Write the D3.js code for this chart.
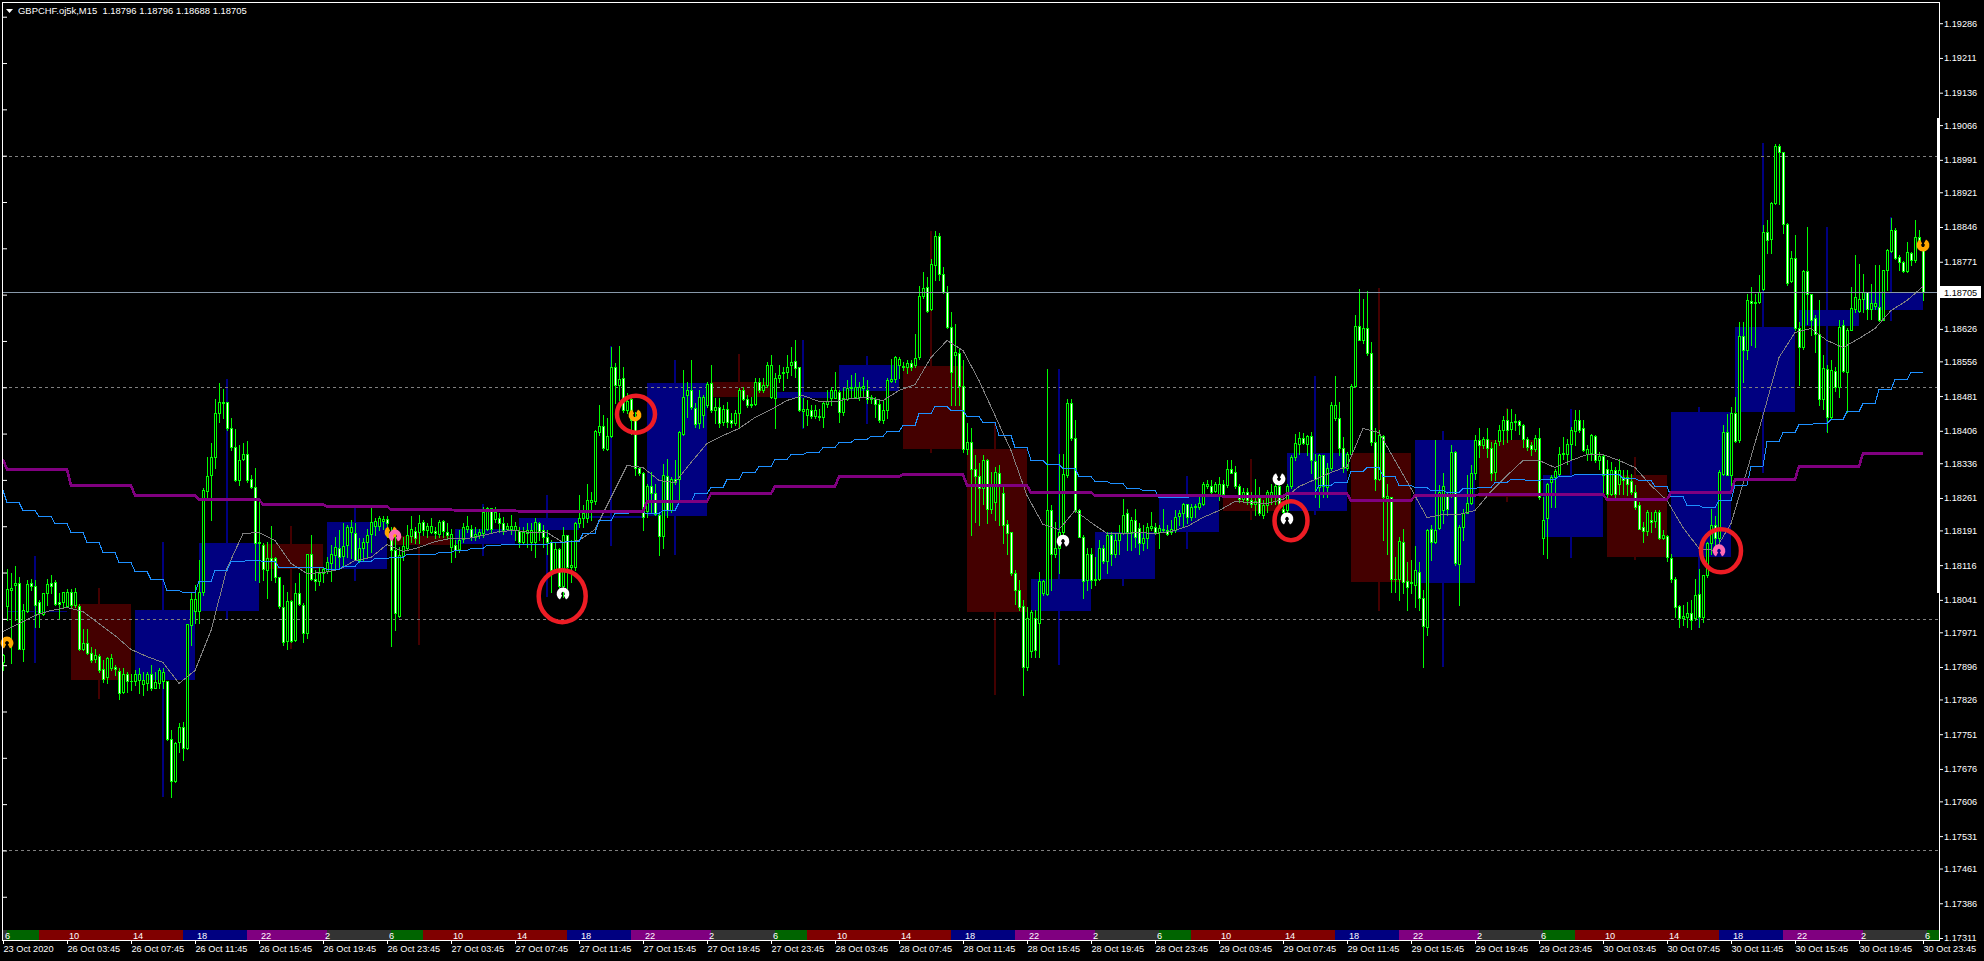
<!DOCTYPE html>
<html>
<head>
<meta charset="utf-8">
<title>GBPCHF M15</title>
<script src="https://cdnjs.cloudflare.com/ajax/libs/d3/7.8.5/d3.min.js"></script>
<style>
html, body { margin: 0; background: #000; overflow: hidden; }
svg { display: block; }
text { font-family: "Liberation Sans", sans-serif; font-size: 9.2px; fill: #fff; }
</style>
</head>
<body>
<svg></svg>
<script>
var width = 1984
var height = 961

var headerText = "GBPCHF.oj5k,M15  1.18796 1.18796 1.18688 1.18705"
var lastPrice = 1.18705

var priceLabels = ["1.19286","1.19211","1.19136","1.19066","1.18991","1.18921","1.18846","1.18771","1.18626","1.18556","1.18481","1.18406","1.18336","1.18261","1.18191","1.18116","1.18041","1.17971","1.17896","1.17826","1.17751","1.17676","1.17606","1.17531","1.17461","1.17386","1.17311"]
var dashedLevels = [1.19, 1.185, 1.18, 1.175]
var leftTicks = [1.193,1.192,1.191,1.19,1.189,1.188,1.187,1.186,1.185,1.184,1.183,1.182,1.181,1.18,1.179,1.178,1.177,1.176,1.175,1.174]

var timeLabels = ["23 Oct 2020",
  "26 Oct 03:45","26 Oct 07:45","26 Oct 11:45","26 Oct 15:45","26 Oct 19:45","26 Oct 23:45",
  "27 Oct 03:45","27 Oct 07:45","27 Oct 11:45","27 Oct 15:45","27 Oct 19:45","27 Oct 23:45",
  "28 Oct 03:45","28 Oct 07:45","28 Oct 11:45","28 Oct 15:45","28 Oct 19:45","28 Oct 23:45",
  "29 Oct 03:45","29 Oct 07:45","29 Oct 11:45","29 Oct 15:45","29 Oct 19:45","29 Oct 23:45",
  "30 Oct 03:45","30 Oct 07:45","30 Oct 11:45","30 Oct 15:45","30 Oct 19:45","30 Oct 23:45"]
var hourLabels = ["6","10","14","18","22","2"]

// hour at which each session colour starts, 2 = still in the grey part of the night
var sessionHours = [2, 6, 8, 17, 21]
var sessionEnds = [6, 8, 17, 21, 26]
var sessionColors = ["#333333", "#006400", "#800000", "#000080", "#800080"]

// all M15 prices in points, 18705 = 1.18705
var opens = [
17907,18028,18062,18073,18077,17936,18018,18077,18072,18036,18010,18055,18077,18080,18036,18037,
18028,18057,18030,18028,17936,17948,17927,17914,17920,17892,17875,17893,17897,17888,17843,17881,
17865,17866,17868,17859,17861,17882,17850,17862,17866,17866,17740,17650,17735,17767,17722,17987,
18018,18018,18059,18275,18311,18350,18444,18465,18468,18413,18372,18300,18345,18357,18301,18285,
18163,18159,18105,18131,18131,18091,18025,17953,18039,17954,18055,18031,17970,18139,18085,18082,
18098,18104,18121,18138,18154,18136,18159,18187,18185,18128,18154,18167,18183,18201,18200,18212,
18215,18170,18149,18007,18136,18152,18179,18190,18188,18209,18192,18188,18190,18183,18211,18188,
18156,18159,18150,18172,18195,18194,18177,18181,18185,18194,18239,18216,18217,18206,18194,18195,
18192,18190,18166,18186,18166,18166,18206,18192,18176,18166,18105,18150,18071,18181,18112,18112,
18206,18217,18218,18253,18255,18404,18416,18366,18395,18543,18505,18519,18451,18474,18429,18325,
18314,18233,18287,18271,18224,18179,18308,18235,18303,18301,18400,18483,18495,18456,18422,18440,
18462,18510,18451,18458,18426,18454,18429,18423,18444,18495,18474,18463,18464,18512,18494,18505,
18478,18476,18521,18530,18534,18548,18557,18543,18449,18440,18452,18438,18438,18435,18464,18476,
18476,18490,18447,18474,18498,18478,18478,18498,18495,18474,18474,18463,18429,18452,18514,18517,
18548,18546,18544,18553,18548,18565,18697,18716,18668,18764,18827,18744,18706,18631,18570,18573,
18503,18366,18382,18323,18308,18282,18343,18238,18253,18314,18271,18205,18187,18098,18062,18027,
17896,17931,18001,17991,18055,18053,18235,18140,18152,18188,18310,18467,18390,18235,18177,18084,
18141,18087,18087,18152,18125,18181,18141,18170,18186,18229,18186,18213,18197,18163,18174,18197,
18199,18187,18192,18192,18187,18192,18222,18228,18248,18220,18241,18242,18249,18287,18287,18277,
18267,18291,18289,18323,18318,18287,18258,18273,18256,18248,18260,18224,18246,18267,18267,18287,
18238,18235,18287,18350,18377,18390,18377,18395,18341,18285,18354,18285,18325,18433,18433,18368,
18325,18357,18503,18632,18603,18629,18573,18382,18303,18395,18261,18264,18085,18085,18165,18082,
18078,18074,18102,18044,17983,18193,18166,18197,18236,18267,18269,18361,18118,18199,18229,18251,
18314,18386,18375,18388,18368,18318,18384,18407,18429,18409,18425,18427,18419,18389,18375,18366,
18391,18175,18218,18295,18306,18313,18355,18357,18377,18406,18429,18411,18357,18358,18395,18342,
18351,18324,18270,18321,18292,18306,18306,18297,18274,18245,18198,18190,18213,18211,18231,18175,
18179,18132,18087,18027,18002,18005,18012,18002,18053,18005,18094,18164,18203,18175,18313,18403,
18311,18445,18387,18611,18580,18686,18684,18684,18713,18835,18821,18897,19020,19007,18853,18730,
18780,18629,18586,18751,18702,18650,18614,18475,18540,18436,18535,18501,18634,18533,18624,18670,
18665,18691,18706,18670,18675,18673,18646,18753,18794,18840,18781,18771,18751,18790,18774,18825,18796]
var closes = [
17922,18064,18067,18077,17936,18019,18075,18072,18031,18013,18055,18075,18072,18033,18032,18057,
18057,18030,18057,17936,17948,17927,17911,17921,17889,17871,17915,17916,17891,17840,17882,17866,
17866,17880,17882,17868,17880,17850,17864,17889,17886,17740,17650,17733,17767,17722,17988,18042,
18042,18059,18278,18309,18350,18444,18469,18469,18413,18370,18300,18344,18355,18300,18284,18163,
18167,18107,18131,18126,18091,18028,17951,18039,17953,18055,18033,17970,18139,18085,18082,18098,
18107,18123,18139,18156,18134,18157,18198,18199,18128,18152,18167,18182,18210,18212,18217,18216,
18208,18149,18012,18138,18158,18182,18193,18174,18208,18192,18200,18200,18185,18209,18190,18181,
18183,18149,18170,18199,18201,18176,18183,18188,18231,18239,18195,18231,18206,18192,18200,18200,
18201,18166,18188,18192,18192,18210,18190,18176,18167,18105,18150,18071,18181,18112,18116,18206,
18217,18228,18256,18256,18405,18416,18368,18395,18543,18505,18517,18451,18471,18429,18325,18314,
18220,18287,18271,18226,18179,18310,18235,18301,18296,18404,18480,18495,18457,18421,18480,18478,
18508,18451,18458,18422,18454,18426,18422,18445,18494,18474,18462,18462,18512,18494,18505,18548,
18548,18521,18526,18534,18544,18555,18541,18452,18454,18454,18438,18452,18435,18465,18470,18495,
18494,18447,18476,18498,18501,18501,18501,18503,18474,18478,18463,18429,18452,18516,18517,18565,
18562,18544,18553,18543,18564,18697,18715,18665,18767,18827,18744,18706,18631,18534,18577,18503,
18366,18382,18323,18308,18282,18343,18238,18292,18318,18289,18202,18186,18098,18063,18026,17896,
18001,18015,17932,18082,18082,18235,18140,18152,18188,18312,18467,18390,18235,18177,18082,18141,
18084,18084,18152,18125,18181,18141,18170,18186,18225,18188,18213,18177,18163,18174,18199,18200,
18188,18197,18195,18184,18193,18220,18228,18248,18219,18242,18243,18251,18292,18292,18274,18291,
18292,18269,18323,18315,18287,18258,18273,18256,18248,18255,18228,18246,18274,18274,18287,18242,
18231,18287,18349,18379,18390,18379,18395,18343,18303,18354,18287,18325,18462,18462,18368,18325,
18357,18503,18632,18603,18627,18575,18382,18303,18398,18264,18265,18085,18087,18168,18080,18069,
18080,18105,18044,17984,18192,18166,18192,18274,18287,18238,18361,18120,18199,18229,18251,18314,
18386,18375,18388,18368,18314,18380,18407,18429,18407,18425,18427,18418,18389,18372,18366,18391,
18263,18214,18292,18306,18319,18357,18359,18378,18407,18429,18407,18364,18367,18396,18342,18351,
18310,18270,18321,18270,18321,18300,18292,18274,18241,18195,18189,18231,18209,18231,18175,18180,
18133,18087,18025,18002,18007,18012,17998,18052,18005,18094,18164,18203,18175,18316,18403,18311,
18445,18385,18611,18580,18689,18682,18681,18706,18835,18819,18897,19020,19008,18853,18725,18780,
18629,18586,18750,18702,18645,18616,18475,18542,18436,18537,18501,18630,18535,18624,18672,18694,
18691,18706,18670,18683,18683,18646,18753,18796,18839,18780,18771,18751,18792,18774,18825,18810,18705]
var highs = [
17925,18107,18098,18114,18091,18033,18084,18087,18084,18041,18055,18087,18095,18084,18055,18059,
18064,18064,18066,18033,17979,17979,17940,17936,17925,17911,17918,17925,17900,17893,17893,17886,
17882,17889,17893,17886,17886,17900,17886,17893,17893,17866,17760,17735,17776,17778,17988,18055,
18073,18127,18282,18350,18379,18474,18510,18496,18469,18433,18409,18375,18380,18383,18311,18325,
18253,18163,18167,18200,18134,18091,18073,18059,18041,18077,18098,18035,18139,18181,18105,18113,
18113,18134,18159,18177,18192,18206,18203,18213,18206,18174,18174,18195,18239,18217,18221,18221,
18221,18199,18185,18156,18177,18203,18222,18199,18224,18213,18206,18217,18199,18213,18213,18206,
18195,18170,18192,18206,18221,18203,18199,18195,18242,18242,18239,18242,18228,18220,18207,18224,
18210,18199,18199,18206,18206,18217,18210,18202,18192,18170,18166,18152,18199,18181,18170,18210,
18267,18246,18292,18274,18408,18462,18440,18433,18588,18552,18589,18544,18487,18480,18447,18328,
18318,18292,18318,18292,18231,18334,18346,18307,18343,18406,18537,18512,18559,18465,18494,18483,
18512,18548,18476,18476,18462,18469,18444,18451,18498,18501,18483,18480,18519,18519,18519,18555,
18570,18530,18548,18544,18570,18588,18602,18544,18476,18472,18462,18462,18454,18469,18494,18501,
18534,18494,18498,18516,18526,18530,18512,18523,18516,18483,18480,18472,18472,18519,18562,18567,
18566,18555,18559,18559,18615,18718,18748,18737,18778,18837,18834,18760,18719,18663,18636,18584,
18559,18422,18411,18354,18336,18354,18346,18318,18328,18332,18292,18213,18188,18105,18084,18040,
18026,18019,18019,18102,18084,18539,18246,18210,18357,18357,18474,18474,18429,18238,18181,18152,
18152,18134,18170,18159,18188,18188,18184,18202,18258,18238,18220,18238,18206,18202,18206,18231,
18206,18202,18238,18202,18213,18235,18235,18251,18249,18249,18249,18264,18296,18300,18300,18296,
18307,18300,18343,18344,18330,18292,18282,18282,18274,18303,18285,18256,18278,18292,18296,18296,
18249,18292,18354,18400,18404,18402,18397,18404,18357,18357,18354,18336,18469,18524,18469,18393,
18361,18508,18656,18713,18690,18708,18598,18411,18408,18397,18292,18264,18134,18177,18193,18123,
18127,18157,18123,18062,18195,18202,18386,18289,18314,18271,18375,18362,18202,18238,18310,18332,
18397,18411,18393,18411,18382,18386,18418,18439,18454,18454,18443,18430,18421,18393,18382,18396,
18413,18263,18293,18310,18324,18371,18393,18389,18414,18450,18450,18429,18375,18400,18396,18360,
18353,18342,18339,18328,18346,18321,18321,18313,18288,18252,18209,18234,18231,18234,18234,18191,
18180,18141,18090,18029,18029,18036,18040,18087,18108,18094,18166,18238,18223,18321,18418,18443,
18457,18479,18641,18641,18702,18717,18702,18742,18851,18861,18900,19025,19026,19008,18855,18794,
18828,18641,18754,18846,18702,18655,18688,18569,18547,18558,18544,18645,18645,18627,18717,18785,
18767,18745,18706,18724,18763,18763,18753,18799,18866,18843,18785,18772,18814,18792,18861,18839,18796]
var lows = [
17889,17997,17904,17997,17936,17910,18015,18062,17983,17983,18008,18030,18055,18030,18001,18026,
18025,18025,18025,17933,17933,17924,17907,17907,17886,17864,17861,17889,17879,17828,17839,17843,
17846,17857,17839,17835,17846,17846,17850,17850,17850,17738,17616,17648,17713,17695,17720,17943,
17991,17991,18051,18264,18213,18325,18426,18433,18408,18365,18298,18289,18343,18296,18282,18084,
18080,18084,18044,18084,18080,18023,17943,17936,17951,17953,18030,17951,17958,18084,18062,18073,
18080,18098,18082,18105,18113,18113,18134,18131,18127,18123,18127,18134,18145,18181,18192,18195,
18177,17941,17976,18005,18127,18149,18167,18163,18163,18181,18177,18185,18174,18177,18177,18174,
18122,18134,18145,18167,18188,18170,18170,18174,18177,18192,18188,18210,18188,18184,18192,18184,
18170,18156,18163,18156,18148,18134,18170,18156,18141,18058,18105,18055,18048,18066,18080,18105,
18199,18199,18210,18213,18249,18397,18364,18364,18393,18465,18472,18447,18444,18400,18310,18310,
18192,18220,18228,18224,18138,18152,18220,18231,18292,18256,18397,18436,18454,18415,18411,18415,
18458,18447,18422,18415,18418,18415,18415,18418,18411,18472,18458,18458,18462,18490,18490,18501,
18476,18411,18512,18494,18519,18526,18523,18449,18415,18418,18433,18433,18429,18415,18458,18462,
18483,18426,18440,18472,18476,18476,18472,18480,18465,18465,18436,18426,18422,18433,18512,18512,
18519,18537,18530,18537,18544,18560,18692,18663,18667,18731,18731,18704,18627,18462,18462,18462,
18361,18357,18181,18210,18202,18249,18206,18228,18213,18202,18163,18141,18094,18033,18019,17835,
17889,17918,17918,17918,18051,18051,18062,18134,18098,18184,18307,18386,18231,18176,18044,18062,
18066,18073,18084,18120,18098,18116,18134,18141,18184,18148,18148,18156,18141,18148,18152,18192,
18184,18152,18188,18181,18184,18188,18202,18199,18206,18213,18220,18238,18246,18282,18271,18274,
18256,18267,18285,18314,18282,18253,18253,18249,18242,18224,18224,18217,18231,18249,18249,18242,
18228,18231,18282,18343,18357,18377,18354,18314,18264,18242,18264,18264,18321,18429,18354,18318,
18321,18354,18500,18602,18595,18570,18375,18278,18300,18171,18141,18058,18058,18040,18055,18019,
18055,18026,18019,17896,17965,18127,18163,18195,18206,18224,18264,18116,18030,18170,18228,18249,
18303,18350,18368,18350,18300,18300,18375,18378,18382,18389,18407,18400,18371,18364,18353,18362,
18259,18139,18131,18241,18241,18310,18346,18335,18346,18375,18403,18362,18342,18342,18339,18324,
18267,18263,18267,18256,18270,18270,18267,18270,18238,18195,18166,18180,18187,18198,18173,18173,
18126,18079,18004,17982,17986,17982,17979,17997,17982,17993,18090,18141,18148,18159,18310,18310,
18274,18382,18382,18511,18562,18591,18587,18681,18709,18789,18789,18895,18895,18832,18720,18727,
18623,18504,18583,18637,18612,18576,18461,18454,18403,18432,18493,18479,18533,18447,18623,18663,
18663,18663,18648,18648,18670,18643,18645,18709,18792,18778,18753,18749,18749,18763,18771,18807,18688]

// H4 candles drawn behind the M15 ones
var h4Opens = [18015,18032,17868,18017,18162,18108,18179,18162,18192,18218,18222,18511,18477,18492,18546,18367,18017,18086,18188,18265,18233,18358,18077,18386,18177,18311,18134,18447,18632,18667]
var h4Closes = [18018,17868,18019,18164,18108,18209,18159,18194,18218,18222,18509,18479,18490,18548,18367,18015,18086,18188,18265,18233,18358,18080,18386,18263,18311,18134,18447,18630,18667,18706]
var h4Highs = [18136,18067,18166,18518,18200,18239,18192,18248,18267,18589,18559,18572,18602,18567,18837,18423,18539,18190,18308,18345,18524,18714,18406,18455,18453,18349,18457,19027,18846,18868]
var h4Lows = [17905,17827,17615,18000,17935,18082,17944,18136,18047,18157,18138,18412,18410,18421,18358,17836,17900,18071,18151,18213,18224,18017,17896,18252,18131,18127,17980,18315,18403,18643]

// slow MA, one value per H4 bar, first value is the tail of the bar before the chart
var purpleMa = [18345,18324,18290,18268,18259,18248,18244,18237,18235,18233,18233,18254,18272,18287,18308,18313,18290,18274,18267,18267,18265,18272,18257,18267,18270,18270,18259,18274,18303,18330,18359]

// H1 MA, one value per hour, same thing for the first value
var blueMa = [18278,18252,18234,18221,18206,18187,18165,18144,18122,18103,18085,18062,18057,18081,18105,18124,18128,18124,18111,18112,18113,18108,18115,18124,18131,18134,18139,18141,18144,18148,18154,18159,
18161,18161,18161,18166,18168,18185,18213,18228,18231,18228,18234,18252,18272,18285,18301,18316,18329,18346,18355,18361,18370,18381,18388,18394,18405,18418,18444,18459,18452,18439,18424,
18398,18370,18344,18334,18325,18308,18297,18293,18282,18278,18264,18264,18266,18267,18267,18267,18267,18267,18274,18274,18290,18295,18320,18327,18309,18290,18285,18278,18273,18282,18285,
18295,18301,18300,18301,18308,18313,18313,18313,18305,18300,18287,18265,18246,18241,18256,18289,18331,18384,18403,18420,18422,18431,18448,18465,18496,18517,18532]

// fast MA read every 4th M15 bar
var grayMa = [17974,17992,18008,18020,18025,18017,17990,17965,17935,17920,17907,17862,17889,17976,18109,18185,18187,18170,18121,18100,18102,18107,18128,18134,18161,18147,18156,18168,18174,18174,18182,18190,
18192,18188,18187,18167,18170,18195,18264,18332,18327,18300,18296,18339,18379,18397,18411,18435,18453,18472,18483,18471,18471,18476,18478,18472,18494,18508,18566,18602,18580,18516,18440,
18364,18267,18204,18195,18235,18210,18186,18185,18187,18186,18190,18200,18220,18236,18254,18253,18251,18258,18287,18302,18318,18330,18413,18404,18343,18282,18220,18226,18226,18235,18276,
18310,18343,18343,18327,18343,18356,18356,18343,18328,18289,18256,18199,18152,18149,18206,18321,18440,18566,18619,18629,18602,18587,18606,18629,18667,18688,18719]

// arrow signals on the chart, up = opening at the top
var signalBars = [1, 97, 98, 140, 158, 265, 321, 319, 429, 480]
var signalPrices = [17948,18187,18179,18054,18440,18168,18216,18302,18147,18807]
var signalUp = [false,true,false,false,true,false,false,true,false,true]
var signalColors = ["#ffa500","#ffa500","#ff69b4","#ffffff","#ffa500","#ffffff","#ffffff","#ffffff","#ff69b4","#ffa500"]

// red rings somebody painted over the screenshot
var ringBars = [139.8, 158.25, 322, 429.5]
var ringPrices = [18049, 18442, 18212, 18147]
var ringRx = [23.5, 19, 16.5, 20]
var ringRy = [26, 18.5, 19.5, 21.5]

var barCount = opens.length

var xBar = d3.scaleLinear().domain([0, 480]).range([3, 1923])
var yPrice = d3.scaleLinear().domain([1.17311, 1.19286]).range([938, 23.2])

function py(points){
  return Math.round(yPrice(1 + points / 100000))
}

var svg = d3.select("svg")
  .attr("width", width)
  .attr("height", height)

var chartRight = 1939
var chartBottom = 940

svg.append("rect")
  .attr("width", width)
  .attr("height", height)
  .attr("fill", "#000")

svg.append("clipPath").attr("id", "chart")
  .append("rect")
  .attr("x", 3).attr("y", 3)
  .attr("width", chartRight - 3).attr("height", chartBottom - 3)

var chart = svg.append("g")
  .attr("clip-path", "url(#chart)")
  .attr("shape-rendering", "crispEdges")

// H4 candles
var h4Index = d3.range(h4Opens.length)
chart.selectAll("rect.h4wick")
  .data(h4Index)
  .enter()
  .append("rect")
  .attr("class", "h4wick")
  .attr("x", k => xBar(16 * k + 8) - 1)
  .attr("width", 2)
  .attr("y", k => py(h4Highs[k]))
  .attr("height", k => py(h4Lows[k]) - py(h4Highs[k]))
  .attr("fill", k => h4Closes[k] >= h4Opens[k] ? "#000080" : "#440000")

chart.selectAll("rect.h4body")
  .data(h4Index)
  .enter()
  .append("rect")
  .attr("class", "h4body")
  .attr("x", k => xBar(16 * k + 1))
  .attr("width", k => xBar(16 * k + 16) - xBar(16 * k + 1))
  .attr("y", k => py(Math.max(h4Opens[k], h4Closes[k])))
  .attr("height", k => Math.max(1, Math.abs(py(h4Opens[k]) - py(h4Closes[k]))))
  .attr("fill", k => h4Closes[k] >= h4Opens[k] ? "#000080" : "#440000")

// dashed round number levels
chart.selectAll("line.level")
  .data(dashedLevels)
  .enter()
  .append("line")
  .attr("class", "level")
  .attr("x1", 3).attr("x2", chartRight)
  .attr("y1", d => Math.round(yPrice(d)) + 0.5)
  .attr("y2", d => Math.round(yPrice(d)) + 0.5)
  .attr("stroke", "#808080")
  .attr("stroke-dasharray", "3,3")

// M15 candles
var barIndex = d3.range(barCount)
chart.selectAll("rect.wick")
  .data(barIndex)
  .enter()
  .append("rect")
  .attr("class", "wick")
  .attr("x", i => xBar(i))
  .attr("width", 1)
  .attr("y", i => py(highs[i]))
  .attr("height", i => py(lows[i]) - py(highs[i]) + 1)
  .attr("fill", "#00ff00")

chart.selectAll("rect.body")
  .data(barIndex)
  .enter()
  .append("rect")
  .attr("class", "body")
  .attr("x", i => xBar(i) - 1)
  .attr("width", 3)
  .attr("y", i => py(Math.max(opens[i], closes[i])))
  .attr("height", i => Math.abs(py(opens[i]) - py(closes[i])) + 1)
  .attr("fill", "#00ff00")

// up candles are hollow (black), down candles white
chart.selectAll("rect.fill")
  .data(barIndex.filter(i => Math.abs(py(opens[i]) - py(closes[i])) > 1))
  .enter()
  .append("rect")
  .attr("class", "fill")
  .attr("x", i => xBar(i))
  .attr("width", 1)
  .attr("y", i => py(Math.max(opens[i], closes[i])) + 1)
  .attr("height", i => Math.abs(py(opens[i]) - py(closes[i])) - 1)
  .attr("fill", i => closes[i] >= opens[i] ? "#000" : "#fff")

// moving averages
function stepPoints(values, barsPerStep){
  var pts = [[0, values[0]]]
  for (var s = 1; s < values.length; s++){
    pts.push([barsPerStep * (s - 1) + 1, values[s]])
    pts.push([barsPerStep * s, values[s]])
  }
  return pts
}

var maLine = d3.line()
  .x(d => xBar(d[0]))
  .y(d => py(d[1]) + 0.5)

chart.append("path")
  .attr("d", maLine(grayMa.map((v, n) => [n * 4, v])))
  .attr("fill", "none")
  .attr("stroke", "#808080")

chart.append("path")
  .attr("d", maLine(stepPoints(blueMa, 4)))
  .attr("fill", "none")
  .attr("stroke", "#1e90ff")

chart.append("path")
  .attr("d", maLine(stepPoints(purpleMa, 16)))
  .attr("fill", "none")
  .attr("stroke", "#800080")
  .attr("stroke-width", 2.6)
  .attr("stroke-linejoin", "round")

// last price
chart.append("line")
  .attr("x1", 3).attr("x2", chartRight)
  .attr("y1", Math.round(yPrice(lastPrice)) + 0.5)
  .attr("y2", Math.round(yPrice(lastPrice)) + 0.5)
  .attr("stroke", "#8899aa")

// signals
var signalArc = d3.arc()
  .innerRadius(1.8)
  .outerRadius(6.4)
  .startAngle(-2.65)
  .endAngle(2.65)

svg.selectAll("path.signal")
  .data(signalBars)
  .enter()
  .append("path")
  .attr("class", "signal")
  .attr("d", signalArc())
  .attr("transform", (d, n) => "translate(" + xBar(d) + "," + yPrice(1 + signalPrices[n] / 100000) + ")" + (signalUp[n] ? " rotate(180)" : ""))
  .attr("fill", (d, n) => signalColors[n])

// painted rings
svg.selectAll("ellipse.ring")
  .data(ringBars)
  .enter()
  .append("ellipse")
  .attr("class", "ring")
  .attr("cx", d => xBar(d))
  .attr("cy", (d, n) => yPrice(1 + ringPrices[n] / 100000))
  .attr("rx", (d, n) => ringRx[n])
  .attr("ry", (d, n) => ringRy[n])
  .attr("fill", "none")
  .attr("stroke", "#ed1c24")
  .attr("stroke-width", 4.5)

// session strip along the bottom, 1 hour = 4 bars, hour 6 of the first day sits on bar 1
var stripDays = d3.range(0, 6)
stripDays.forEach(function(day){
  sessionHours.forEach(function(h, n){
    var x0 = Math.max(3, xBar((h + 24 * day - 6) * 4 + 1))
    var x1 = Math.min(chartRight, xBar((sessionEnds[n] + 24 * day - 6) * 4 + 1))
    if (x1 <= x0) return
    svg.append("rect")
      .attr("x", x0).attr("y", 930)
      .attr("width", x1 - x0).attr("height", 10)
      .attr("fill", sessionColors[n])
      .attr("shape-rendering", "crispEdges")
  })
})

svg.selectAll("text.hour")
  .data(timeLabels)
  .enter()
  .append("text")
  .attr("class", "hour")
  .attr("x", (d, n) => xBar(16 * n) + 2)
  .attr("y", 939)
  .text((d, n) => hourLabels[n % 6])

// frame
svg.append("rect")
  .attr("x", 2.5).attr("y", 2.5)
  .attr("width", chartRight - 2.5).attr("height", chartBottom - 2.5 + 0.5)
  .attr("fill", "none")
  .attr("stroke", "#fff")
  .attr("shape-rendering", "crispEdges")

// the right edge is drawn heavier over part of its height in the screenshot
svg.append("rect")
  .attr("x", chartRight - 2).attr("y", 118)
  .attr("width", 3).attr("height", 475)
  .attr("fill", "#fff")

// axes
var leftAxis = d3.axisRight(yPrice)
  .tickValues(leftTicks)
  .tickSize(4)
  .tickFormat("")
svg.append("g")
  .attr("transform", "translate(3,0)")
  .call(leftAxis)
  .call(g => g.select(".domain").remove())
  .call(g => g.selectAll("line").attr("stroke", "#fff"))

var rightAxis = d3.axisRight(yPrice)
  .tickValues(priceLabels.map(Number))
  .tickSize(4)
  .tickPadding(1)
  .tickFormat(d3.format(".5f"))
svg.append("g")
  .attr("transform", "translate(" + chartRight + ",0)")
  .call(rightAxis)
  .call(g => g.select(".domain").remove())
  .call(g => g.selectAll("line").attr("stroke", "#fff"))
  .attr("font-size", null).attr("font-family", null)

var timeAxis = d3.axisBottom(xBar)
  .tickValues(d3.range(0, 31).map(n => n * 16))
  .tickSize(4)
  .tickPadding(1)
  .tickFormat((d, n) => timeLabels[n])
svg.append("g")
  .attr("transform", "translate(0," + chartBottom + ")")
  .call(timeAxis)
  .call(g => g.select(".domain").remove())
  .call(g => g.selectAll("line").attr("stroke", "#fff"))
  .call(g => g.selectAll("text").attr("text-anchor", "start").attr("x", 0))
  .attr("font-size", null).attr("font-family", null)

// last price tag
svg.append("rect")
  .attr("x", chartRight + 1).attr("y", Math.round(yPrice(lastPrice)) - 6)
  .attr("width", 41).attr("height", 12)
  .attr("fill", "#fff")
svg.append("text")
  .attr("x", chartRight + 5)
  .attr("y", Math.round(yPrice(lastPrice)) + 3.5)
  .style("fill", "#000")
  .text(lastPrice.toFixed(5))

// header
svg.append("path")
  .attr("d", "M6,9L13,9L9.5,13Z")
  .attr("fill", "#fff")
svg.append("text")
  .attr("x", 18)
  .attr("y", 14)
  .style("white-space", "pre")
  .style("font-size", "9.45px")
  .text(headerText)
</script>
</body>
</html>
